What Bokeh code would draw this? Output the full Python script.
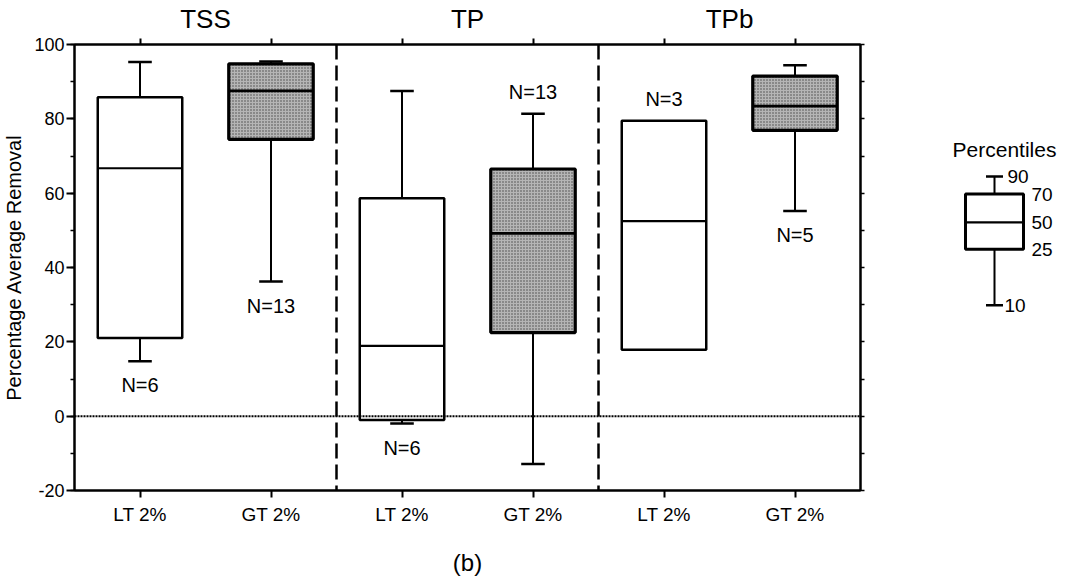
import numpy as np
from bokeh.plotting import figure
from bokeh.models import (Range1d, LinearAxis, FixedTicker, SingleIntervalTicker,
                          Span, ColumnDataSource, PrintfTickFormatter)
from bokeh.layouts import row
from bokeh.embed import file_html
from bokeh.resources import INLINE
from bokeh.core.properties import value

# ---------------- data ----------------
groups = ["TSS", "TP", "TPb"]
classes = ["LT 2%", "GT 2%", "LT 2%", "GT 2%", "LT 2%", "GT 2%"]
p10 = np.array([14.8, 36.2, -2.0, -12.9, np.nan, 55.2])
p25 = np.array([21.0, 74.5, -1.0, 22.5, 17.9, 76.9])
p50 = np.array([66.7, 87.5, 18.9, 49.2, 52.5, 83.4])
p70 = np.array([85.8, 94.8, 58.6, 66.5, 79.5, 91.5])
p90 = np.array([95.3, 95.4, 87.5, 81.4, np.nan, 94.4])
n_obs = [6, 13, 6, 13, 3, 5]
n_side = ["below", "below", "below", "above", "above", "below"]
shaded = [False, True, False, True, False, True]
y_ticks_major = 20
y_ticks_right = 10
legend_levels = ["90", "70", "50", "25", "10"]

FONT = "Liberation Sans"

# ---------------- main plot ----------------
x = np.arange(len(classes)) + 0.5
gx = np.arange(len(groups)) * 2 + 1.0
dividers = np.arange(1, len(groups)) * 2.0
w = 0.645
cap = 0.09
ymin, ymax = -20, 100

p = figure(frame_width=786, frame_height=446,
           x_range=Range1d(0, len(classes)), y_range=Range1d(ymin, ymax),
           output_backend="svg", toolbar_location=None,
           min_border_left=72, min_border_top=32, min_border_bottom=88,
           min_border_right=40, background_fill_color="white",
           border_fill_color="white")
p.grid.visible = False
p.outline_line_color = "black"
p.outline_line_width = 2

# left axis
ya = p.yaxis[0]
ya.ticker = SingleIntervalTicker(interval=y_ticks_major, num_minor_ticks=2)
ya.formatter = PrintfTickFormatter(format="%d")
ya.axis_line_width = 2
ya.major_tick_out = 8
ya.major_tick_in = 0
ya.minor_tick_out = 4
ya.minor_tick_in = 0
ya.major_tick_line_width = 2
ya.minor_tick_line_width = 1.5
ya.major_label_standoff = 2
ya.major_label_text_font = FONT
ya.major_label_text_font_size = "18px"
ya.major_label_text_color = "black"
ya.axis_label = "Percentage Average Removal"
ya.axis_label_text_font = FONT
ya.axis_label_text_font_size = "20px"
ya.axis_label_text_font_style = "normal"
ya.axis_label_text_color = "black"
ya.axis_label_standoff = 6

# bottom axis
xa = p.xaxis[0]
xa.ticker = FixedTicker(ticks=[float(v) for v in x])
xa.major_label_overrides = {float(v): c for v, c in zip(x, classes)}
xa.axis_line_width = 2
xa.major_tick_out = 7
xa.major_tick_in = 0
xa.major_tick_line_width = 2
xa.minor_tick_line_color = None
xa.major_label_standoff = 6
xa.major_label_text_font = FONT
xa.major_label_text_font_size = "19px"
xa.major_label_text_color = "black"
xa.axis_label = "(b)"
xa.axis_label_text_font = FONT
xa.axis_label_text_font_size = "24px"
xa.axis_label_text_font_style = "normal"
xa.axis_label_text_color = "black"
xa.axis_label_standoff = 21

# top axis with group names
ta = LinearAxis(ticker=FixedTicker(ticks=[float(v) for v in gx],
                                   minor_ticks=[float(v) for v in x]))
ta.major_label_overrides = {float(v): g for v, g in zip(gx, groups)}
ta.axis_line_width = 2
ta.major_tick_out = 0
ta.major_tick_in = 0
ta.minor_tick_out = 6
ta.minor_tick_in = 0
ta.minor_tick_line_width = 2
ta.major_label_standoff = 5
ta.major_label_text_font = FONT
ta.major_label_text_font_size = "26px"
ta.major_label_text_color = "black"
p.add_layout(ta, "above")

# right axis, ticks only
rticks = list(range(ymin, ymax + 1, y_ticks_right))
ra = LinearAxis(ticker=FixedTicker(ticks=rticks))
ra.major_label_overrides = {t: "" for t in rticks}
ra.axis_line_width = 2
ra.major_tick_out = 4
ra.major_tick_in = 0
ra.major_tick_line_width = 1.5
ra.minor_tick_line_color = None
ra.major_label_standoff = 0
p.add_layout(ra, "right")

# zero line and group dividers
p.add_layout(Span(location=0, dimension="width", line_color="black",
                  line_width=2, line_dash="2 1"))
for d in dividers:
    p.add_layout(Span(location=float(d), dimension="height", line_color="black",
                      line_width=2.5, line_dash="15 6"))

src = ColumnDataSource(dict(
    x=x, p10=p10, p25=p25, p50=p50, p70=p70, p90=p90,
    left=x - w / 2, right=x + w / 2, capl=x - cap, capr=x + cap,
    fill=["#b5b5b5" if s else "white" for s in shaded],
    hatch=["dot" if s else "blank" for s in shaded],
    lw=[3.2 if s else 2.5 for s in shaded],
    mlw=[2.8 if s else 2.2 for s in shaded],
))

# whiskers
p.segment(x0="x", x1="x", y0="p70", y1="p90", source=src, line_color="black", line_width=2)
p.segment(x0="x", x1="x", y0="p25", y1="p10", source=src, line_color="black", line_width=2)
p.segment(x0="capl", x1="capr", y0="p90", y1="p90", source=src, line_color="black", line_width=2.5)
p.segment(x0="capl", x1="capr", y0="p10", y1="p10", source=src, line_color="black", line_width=2.5)

# boxes
p.quad(left="left", right="right", bottom="p25", top="p70", source=src,
       fill_color="fill", line_color="black", line_width="lw",
       hatch_pattern="hatch", hatch_color="#444444", hatch_scale=3, hatch_weight=1)
p.segment(x0="left", x1="right", y0="p50", y1="p50", source=src,
          line_color="black", line_width="mlw")

# N labels
anchor, offs = [], []
for i, s in enumerate(n_side):
    if s == "below":
        anchor.append(p10[i] if np.isfinite(p10[i]) else p25[i])
        offs.append(24)
    else:
        anchor.append(p90[i] if np.isfinite(p90[i]) else p70[i])
        offs.append(-22)
nsrc = ColumnDataSource(dict(x=x, y=anchor, t=[f"N={n}" for n in n_obs], off=offs))
p.text(x="x", y="y", text="t", y_offset="off", source=nsrc,
       text_align="center", text_baseline="middle",
       text_font=value(FONT), text_font_size="20px", text_color="black")

main_w = 72 + 786 + 40

# ---------------- percentile key ----------------
lw_ = 1062 - main_w
leg = figure(width=lw_, height=566, x_range=Range1d(0, lw_), y_range=Range1d(566, 0),
             output_backend="svg", toolbar_location=None,
             min_border=0, outline_line_color=None)
leg.axis.visible = False
leg.grid.visible = False

key_x = 94
key_half = 29
key_cap = 8.5
key_y = dict(zip(legend_levels, [172, 195, 232, 267, 340]))
lbl_x = dict(zip(legend_levels, [107, 131, 131, 131, 104]))

leg.segment(x0=[key_x, key_x], x1=[key_x, key_x],
            y0=[key_y["90"], key_y["25"]], y1=[key_y["70"], key_y["10"]],
            line_color="black", line_width=2)
leg.segment(x0=[key_x - key_cap] * 2, x1=[key_x + key_cap] * 2,
            y0=[key_y["90"], key_y["10"]], y1=[key_y["90"], key_y["10"]],
            line_color="black", line_width=2.5)
leg.quad(left=[key_x - key_half], right=[key_x + key_half],
         top=[key_y["70"]], bottom=[key_y["25"]],
         fill_color="white", line_color="black", line_width=3)
leg.segment(x0=[key_x - key_half], x1=[key_x + key_half],
            y0=[key_y["50"]], y1=[key_y["50"]], line_color="black", line_width=2.2)
leg.text(x=[lbl_x[k] for k in legend_levels], y=[key_y[k] for k in legend_levels],
         text=legend_levels, text_align="left", text_baseline="middle",
         text_font=value(FONT), text_font_size="19px", text_color="black")
leg.text(x=[104], y=[137], text=["Percentiles"], text_align="center",
         text_baseline="middle", text_font=value(FONT), text_font_size="21px",
         text_color="black")

layout = row(p, leg)
open("out.html", "w").write(file_html(layout, INLINE))
